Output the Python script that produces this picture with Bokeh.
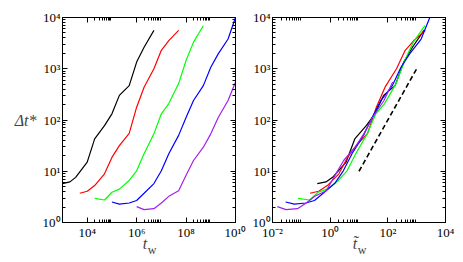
from bokeh.plotting import figure
from bokeh.layouts import row
from bokeh.models import (FixedTicker, CustomJSTickFormatter, LogAxis, Range1d)
from bokeh.embed import file_html
from bokeh.resources import INLINE

# ---------------- data ----------------
tw_black = [1e3, 2e3, 3.4e3, 1e4, 2e4, 5e4, 1e5, 2e5, 5e5, 1e6, 2e6, 5e6]
dt_black = [5.75, 6.2, 7.6, 15.1, 42.7, 77.6, 132, 302, 468, 1350, 2630, 5620]

tw_red = [5e3, 1e4, 2e4, 5e4, 1e5, 2e5, 5e5, 1e6, 2e6, 5e6, 1e7, 2e7, 5e7]
dt_red = [3.72, 4.07, 5.25, 8.91, 18.6, 31.6, 55.0, 178, 437, 1000, 2290, 3550, 5620]

tw_green = [2e4, 5e4, 1e5, 2e5, 5e5, 1e6, 2e6, 5e6, 1e7, 2e7, 5e7, 1e8, 2e8, 5e8]
dt_green = [2.95, 2.75, 3.89, 4.47, 6.61, 10.2, 21.9, 53.7, 132, 209, 513, 1450, 3310, 6920]

tw_blue = [1e5, 2e5, 5e5, 1e6, 2e6, 5e6, 1e7, 2e7, 5e7, 1e8, 2e8, 5e8, 1e9, 2e9, 5e9, 1e10]
dt_blue = [2.51, 2.29, 2.40, 2.69, 3.72, 5.75, 10.2, 21.9, 50.1, 112, 240, 468, 1070, 1950, 3800, 10000]

tw_purple = [1e6, 2e6, 5e6, 1e7, 2e7, 5e7, 1e8, 2e8, 5e8, 1e9, 2e9, 5e9, 1e10]
dt_purple = [2.04, 1.78, 1.86, 2.40, 3.24, 4.17, 8.32, 16.2, 29.5, 53.7, 112, 240, 550]

# scaling times used for the collapse in the right panel
tau = [2.8e3, 2.5e4, 2.6e5, 3.5e6, 6.8e7]

colors = ["black", "#ff0000", "#00ff00", "#0000ff", "#a020f0"]

guide_x = [10, 1000]
guide_y = [10, 1000]

left_major = [1e2, 1e4, 1e6, 1e8, 1e10]
right_major = [1e-2, 1e0, 1e2, 1e4]
y_major = [1e0, 1e1, 1e2, 1e3, 1e4]

series = [(tw_black, dt_black), (tw_red, dt_red), (tw_green, dt_green),
          (tw_blue, dt_blue), (tw_purple, dt_purple)]

FONT = "Liberation Serif"
NB = "\u00a0"

fmt_code = """
const sup = {"0":"\u2070","1":"\u00b9","2":"\u00b2","3":"\u00b3","4":"\u2074",
             "5":"\u2075","6":"\u2076","7":"\u2077","8":"\u2078","9":"\u2079","-":"\u207b"};
const e = Math.round(Math.log10(tick));
return "10" + String(e).split("").map(c => sup[c]).join("");
"""


def minors(majors):
    out = []
    for m in majors:
        for k in range(2, 10):
            out.append(k * m)
    return out


def style_axis(ax, ticker, labels=True):
    ax.ticker = ticker
    ax.major_tick_in = 5
    ax.major_tick_out = 0
    ax.minor_tick_in = 3
    ax.minor_tick_out = 0
    ax.axis_line_color = "black"
    ax.major_tick_line_color = "black"
    ax.minor_tick_line_color = "black"
    if labels:
        ax.formatter = CustomJSTickFormatter(code=fmt_code)
        ax.major_label_text_font = FONT
        ax.major_label_text_font_size = "13px"
        ax.major_label_text_color = "black"
        ax.major_label_standoff = 2
    else:
        ax.formatter = CustomJSTickFormatter(code="return '';")
        ax.major_label_text_font_size = "1px"
        ax.major_label_standoff = 0


def make_fig(left, right, xr, xmajor, xlabel):
    p = figure(frame_width=173, frame_height=205,
               x_axis_type="log", y_axis_type="log",
               x_range=Range1d(*xr), y_range=Range1d(1, 1e4),
               output_backend="svg", toolbar_location=None,
               min_border_left=left, min_border_right=right,
               min_border_top=17, min_border_bottom=10)
    p.grid.visible = False
    p.outline_line_color = "black"
    p.background_fill_color = "white"
    xa = p.xaxis[0]
    ya = p.yaxis[0]
    style_axis(xa, FixedTicker(ticks=xmajor, minor_ticks=minors(xmajor)))
    style_axis(ya, FixedTicker(ticks=y_major, minor_ticks=minors(y_major)))
    top = LogAxis()
    style_axis(top, FixedTicker(ticks=xmajor, minor_ticks=minors(xmajor)), labels=False)
    p.add_layout(top, "above")
    rgt = LogAxis()
    style_axis(rgt, FixedTicker(ticks=y_major, minor_ticks=minors(y_major)), labels=False)
    p.add_layout(rgt, "right")

    # x axis title: main letter on the real axis, subscript on a bare axis below
    xa.axis_label = xlabel + NB + NB
    xa.axis_label_text_font = FONT
    xa.axis_label_text_font_style = "italic"
    xa.axis_label_text_font_size = "16px"
    xa.axis_label_standoff = -8
    sub = LogAxis(ticker=FixedTicker(ticks=[]))
    sub.axis_line_color = None
    sub.major_tick_in = 0
    sub.major_tick_out = 0
    sub.minor_tick_in = 0
    sub.minor_tick_out = 0
    sub.formatter = CustomJSTickFormatter(code="return '';")
    sub.major_label_text_font_size = "1px"
    sub.major_label_standoff = 0
    sub.axis_label = NB + NB + "w"
    sub.axis_label_text_font = FONT
    sub.axis_label_text_font_style = "normal"
    sub.axis_label_text_font_size = "12px"
    sub.axis_label_standoff = -12
    p.add_layout(sub, "below")
    return p, xa, ya


# ---------------- left panel ----------------
p1, xa1, ya1 = make_fig(62, 12, (1e3, 1e10), left_major, "t")
for (tw, dt), c in zip(series, colors):
    p1.line(tw, dt, line_color=c, line_width=1.2)

ya1.axis_label = "\u0394t*"
ya1.axis_label_orientation = "horizontal"
ya1.axis_label_text_font = FONT
ya1.axis_label_text_font_style = "italic"
ya1.axis_label_text_font_size = "16px"
ya1.axis_label_standoff = 3

# ---------------- right panel ----------------
p2, xa2, ya2 = make_fig(25, 18, (1e-2, 1e4), right_major, "t\u0303")
for (tw, dt), c, t in zip(series, colors, tau):
    p2.line([v / t for v in tw], dt, line_color=c, line_width=1.2)
p2.line(guide_x, guide_y, line_color="black", line_width=1.6, line_dash="5 3")

layout = row(p1, p2)
open("out.html", "w").write(file_html(layout, INLINE))
